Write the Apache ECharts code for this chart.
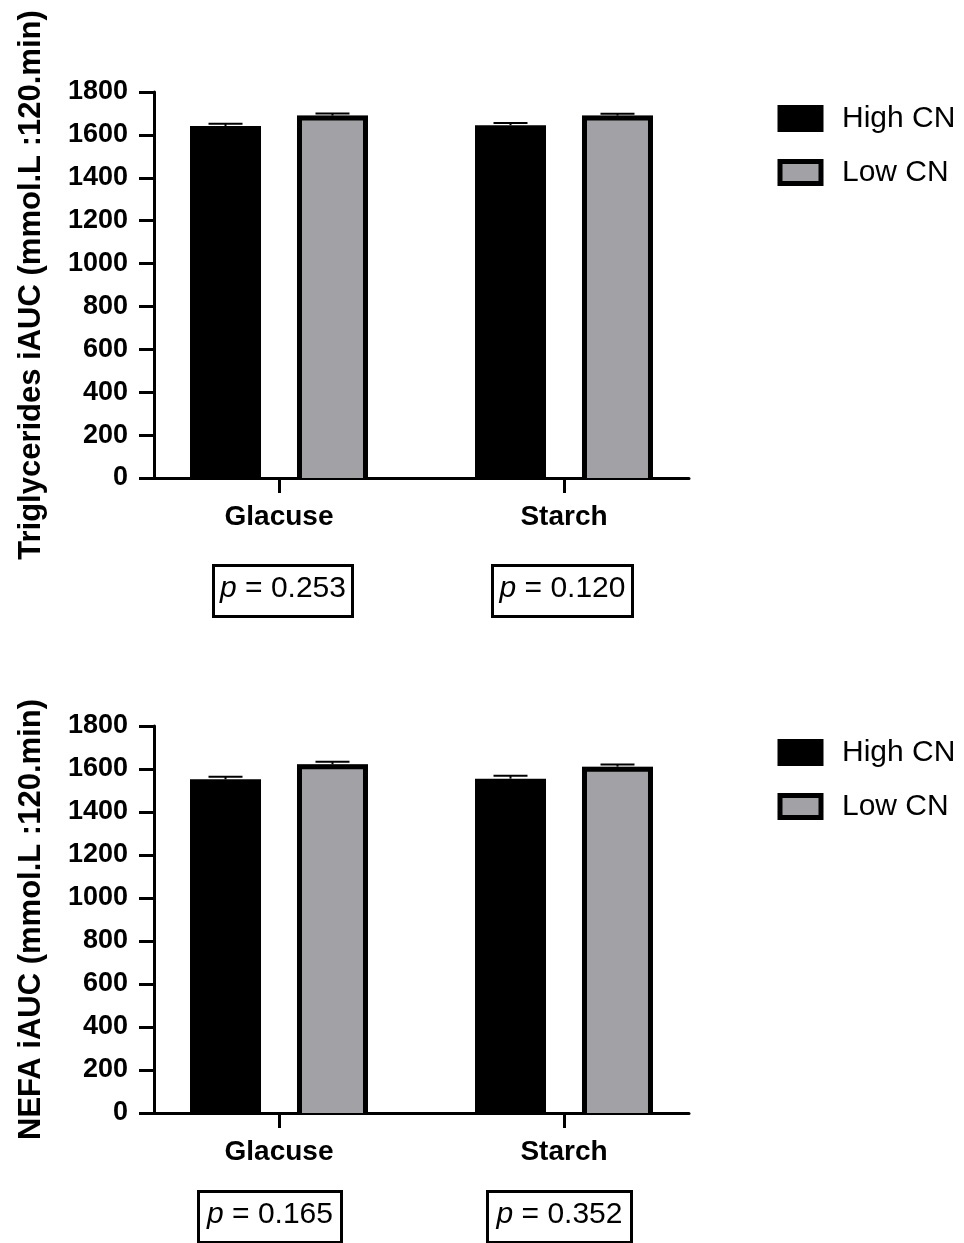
<!DOCTYPE html>
<html>
<head>
<meta charset="utf-8">
<script src="https://cdn.jsdelivr.net/npm/echarts@6/dist/echarts.min.js"></script>
<style>
  html, body { margin: 0; padding: 0; background: #fff; }
  #chart { width: 964px; height: 1243px; }
</style>
</head>
<body>
<div id="chart"></div>
<script>
// Test meals and the two groups compared on each panel
const categories = ['Glacuse', 'Starch'];
const groupNames = ['High CN', 'Low CN'];

// Triglycerides iAUC: mean and SEM per meal
const tgHigh = [1641, 1645];
const tgHighSem = [11, 10];
const tgLow = [1690, 1690];
const tgLowSem = [10, 8];

// NEFA iAUC: mean and SEM per meal
const nefaHigh = [1552, 1555];
const nefaHighSem = [12, 14];
const nefaLow = [1622, 1611];
const nefaLowSem = [12, 10];

// Between-group p values per meal
const tgP = ['0.253', '0.120'];
const nefaP = ['0.165', '0.352'];

// Value axis range
const yMin = 0, yMax = 1800, yStep = 200;

const FONT = '"Liberation Sans", Arial, Helvetica, sans-serif';
const GREY = '#a2a1a6';
const BAR_W = 71;           // bar width in px
const BORDER = 5;           // outline width of the grey bars
const BAR_SHIFT = 0.1877;   // offset of each bar from its meal's centre, in category units
const X_PAD = 0.4386;       // axis overhang beyond the outer category centres

const panels = [
  {
    top: 92, height: 386,
    title: 'Triglycerides iAUC (mmol.L :120.min)',
    high: tgHigh, highSem: tgHighSem, low: tgLow, lowSem: tgLowSem,
    p: tgP, boxTop: 564, boxes: [[212, 142], [491, 143]]
  },
  {
    top: 726, height: 387,
    title: 'NEFA iAUC (mmol.L :120.min)',
    high: nefaHigh, highSem: nefaHighSem, low: nefaLow, lowSem: nefaLowSem,
    p: nefaP, boxTop: 1190, boxes: [[197, 146], [486, 147]]
  }
];

const grid = [], xAxis = [], yAxis = [], series = [], legend = [], graphic = [];

// SEM whisker with a short cap, drawn upward from the bar top
function errorBar(params, api) {
  const x = api.value(0), v = api.value(1), e = api.value(2);
  const base = api.coord([x, v]);
  const tip = api.coord([x, v + e]);
  const stroke = { stroke: '#000', lineWidth: 2 };
  return {
    type: 'group',
    children: [
      { type: 'line', shape: { x1: base[0], y1: base[1], x2: tip[0], y2: tip[1] }, style: stroke },
      { type: 'line', shape: { x1: tip[0] - 17, y1: tip[1], x2: tip[0] + 17, y2: tip[1] }, style: stroke }
    ]
  };
}

// Black outline on the sides and top of a bar (open at the baseline)
function barOutline(params, api) {
  const x = api.value(0), v = api.value(1);
  const top = api.coord([x, v]);
  const base = api.coord([x, 0]);
  const half = BAR_W / 2 - BORDER / 2;
  const yTop = top[1] + BORDER / 2;
  return {
    type: 'polyline',
    shape: { points: [[top[0] - half, base[1]], [top[0] - half, yTop], [top[0] + half, yTop], [top[0] + half, base[1]]] },
    style: { stroke: '#000', lineWidth: BORDER, fill: null, lineJoin: 'miter' }
  };
}

panels.forEach((pn, k) => {
  grid.push({ left: 154, top: pn.top, width: 535, height: pn.height, containLabel: false });

  xAxis.push({
    type: 'value', gridIndex: k,
    min: -X_PAD, max: categories.length - 1 + X_PAD,
    splitLine: { show: false },
    axisLine: { show: true, onZero: false, lineStyle: { color: '#000', width: 3 } },
    axisTick: { show: true, customValues: categories.map((c, i) => i), length: 15, lineStyle: { color: '#000', width: 3 } },
    axisLabel: {
      show: true, customValues: categories.map((c, i) => i),
      formatter: v => categories[Math.round(v)],
      margin: 25, fontFamily: FONT, fontSize: 28, fontWeight: 'bold', color: '#000'
    }
  });

  yAxis.push({
    type: 'value', gridIndex: k,
    min: yMin, max: yMax, interval: yStep,
    name: pn.title, nameLocation: 'middle', nameGap: 107,
    nameTextStyle: { fontFamily: FONT, fontSize: 31, fontWeight: 'bold', color: '#000' },
    splitLine: { show: false },
    axisLine: { show: true, onZero: false, lineStyle: { color: '#000', width: 3 } },
    axisTick: { show: true, length: 15, lineStyle: { color: '#000', width: 3 } },
    axisLabel: {
      margin: 26, formatter: v => String(v),
      fontFamily: FONT, fontSize: 27, fontWeight: 'bold', color: '#000'
    }
  });

  const groups = [
    { name: groupNames[0], vals: pn.high, sem: pn.highSem, shift: -BAR_SHIFT, color: '#000', outlined: false },
    { name: groupNames[1], vals: pn.low, sem: pn.lowSem, shift: BAR_SHIFT, color: GREY, outlined: true }
  ];

  groups.forEach(g => {
    series.push({
      type: 'bar', name: g.name, xAxisIndex: k, yAxisIndex: k,
      barWidth: BAR_W, barGap: '-100%',
      itemStyle: { color: g.color, borderWidth: 0 },
      data: g.vals.map((v, i) => [i + g.shift, v]),
      z: 2
    });
    if (g.outlined) {
      series.push({
        type: 'custom', name: g.name + ' outline', xAxisIndex: k, yAxisIndex: k,
        renderItem: barOutline,
        data: g.vals.map((v, i) => [i + g.shift, v]),
        z: 3
      });
    }
    series.push({
      type: 'custom', name: g.name + ' SEM', xAxisIndex: k, yAxisIndex: k,
      renderItem: errorBar,
      data: g.vals.map((v, i) => [i + g.shift, v, g.sem[i]]),
      z: 4
    });
  });

  legend.push({
    orient: 'vertical', left: 777.5, top: pn.top + 11.5, padding: 0,
    itemWidth: 41, itemHeight: 22, itemGap: 24, icon: 'rect',
    selectedMode: false, data: groupNames,
    itemStyle: { borderWidth: 5, borderColor: '#000' },
    textStyle: { fontFamily: FONT, fontSize: 30, color: '#000', lineHeight: 30, padding: [0, 0, 0, 16] }
  });

  pn.boxes.forEach((b, i) => {
    graphic.push({
      type: 'rect', left: b[0], top: pn.boxTop,
      shape: { width: b[1] - 3, height: 51 },
      style: { fill: '#fff', stroke: '#000', lineWidth: 3 }
    });
    graphic.push({
      type: 'text', x: b[0] + b[1] / 2, y: pn.boxTop + 25,
      style: {
        text: '{i|p} = ' + pn.p[i],
        align: 'center', verticalAlign: 'middle',
        fontFamily: FONT, fontSize: 30, fill: '#000',
        rich: { i: { fontStyle: 'italic', fontFamily: FONT, fontSize: 30 } }
      }
    });
  });
});

const chart = echarts.init(document.getElementById('chart'), null, { renderer: 'canvas' });
chart.setOption({
  animation: false,
  backgroundColor: '#fff',
  grid, xAxis, yAxis, series, legend, graphic
});
</script>
</body>
</html>
